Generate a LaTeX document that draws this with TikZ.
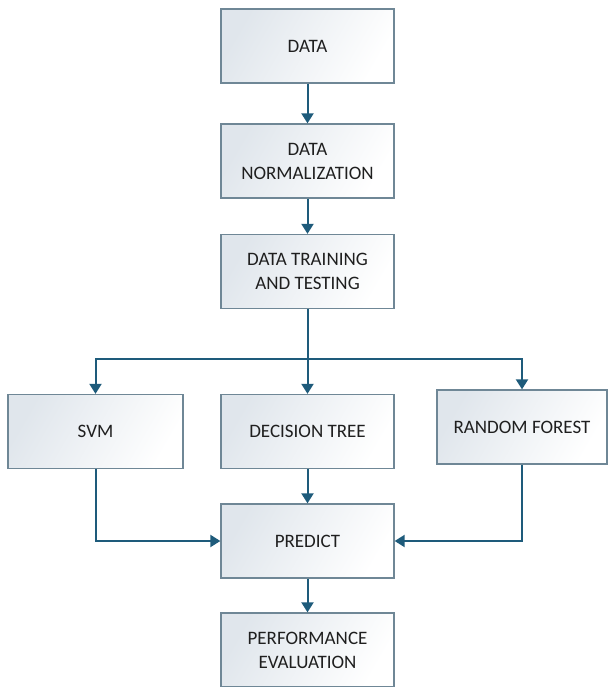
\documentclass[tikz,border=0pt]{standalone}
\usepackage{fontspec}
\setmainfont{Carlito}
\usetikzlibrary{arrows.meta,positioning}
\definecolor{boxline}{HTML}{6F8796}
\definecolor{boxshade}{HTML}{E0E6EC}
\definecolor{flow}{HTML}{1E5B7B}
\tikzset{
  stepbox/.style={draw=boxline, line width=1.3pt, minimum width=173pt, minimum height=74pt,
    left color=boxshade, right color=white, shading angle=60,
    align=center, font=\fontsize{19}{24}\selectfont, text=black!88, inner sep=2pt},
  flowline/.style={draw=flow, line width=2pt},
  flowarrow/.style={flowline, -{Triangle[length=10pt,width=12pt]}}
}
\begin{document}
\begin{tikzpicture}[x=1pt,y=-1pt]
\useasboundingbox (0,0) rectangle (607,687);
\node[stepbox] (data) at (307.5,46) {DATA};
\node[stepbox] (norm) at (307.5,161) {DATA\\NORMALIZATION};
\node[stepbox] (train) at (307.5,271.5) {DATA TRAINING\\AND TESTING};
\node[stepbox, minimum width=175pt] (svm) at (95.5,431.5) {SVM};
\node[stepbox] (tree) at (307.5,431.5) {DECISION TREE};
\node[stepbox, minimum width=170pt] (forest) at (522,427) {RANDOM FOREST};
\node[stepbox] (predict) at (307.5,541) {PREDICT};
\node[stepbox] (perf) at (307.5,650) {PERFORMANCE\\EVALUATION};
\coordinate (split) at (307.5,358.5);
\draw[flowarrow] (data) -- (norm);
\draw[flowarrow] (norm) -- (train);
\draw[flowarrow] (train) -- (tree);
\draw[flowarrow] (split) -| (svm.north);
\draw[flowarrow] (split) -| (forest.north);
\draw[flowarrow] (tree) -- (predict);
\draw[flowarrow] (svm.south) |- (predict.west);
\draw[flowarrow] (forest.south) |- (predict.east);
\draw[flowarrow] (predict) -- (perf);
\end{tikzpicture}
\end{document}
